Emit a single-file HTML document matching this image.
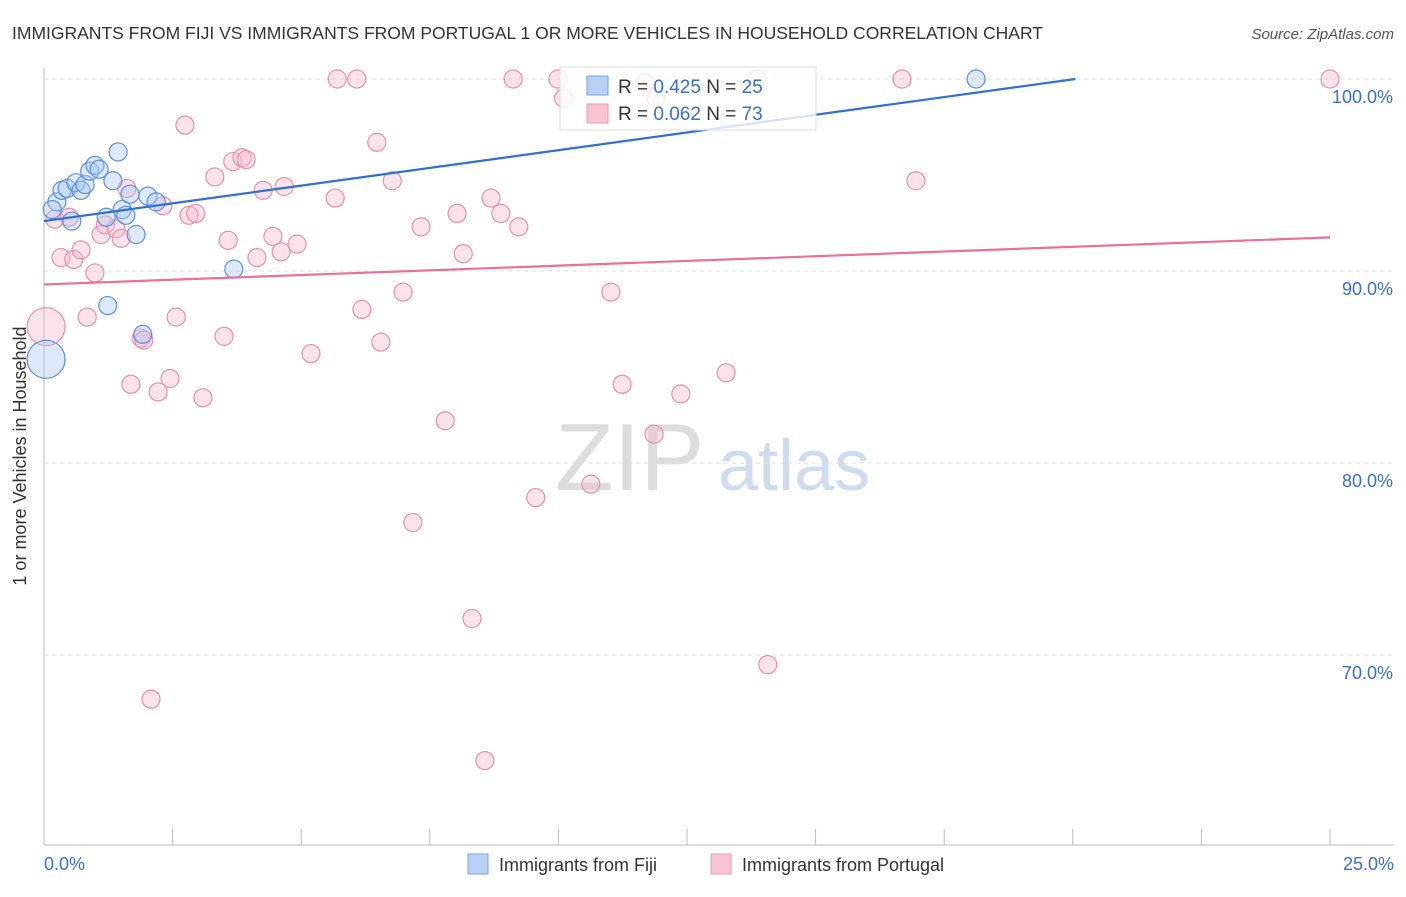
<!DOCTYPE html>
<html><head><meta charset="utf-8"><style>
body{margin:0;background:#fff;font-family:"Liberation Sans",sans-serif;}
svg text{font-family:"Liberation Sans",sans-serif;}
</style></head><body>
<svg id="chart" width="1406" height="892" xmlns="http://www.w3.org/2000/svg">
<text x="12" y="39" font-size="17.5" fill="#333">IMMIGRANTS FROM FIJI VS IMMIGRANTS FROM PORTUGAL 1 OR MORE VEHICLES IN HOUSEHOLD CORRELATION CHART</text>
<text x="1394" y="39" font-size="15" fill="#555" font-style="italic" text-anchor="end">Source: ZipAtlas.com</text>
<text x="26" y="456" font-size="18" fill="#333" text-anchor="middle" transform="rotate(-90 26 456)">1 or more Vehicles in Household</text>
<g><text x="555" y="490" font-size="96" fill="#ddd" font-family="Liberation Serif">ZIP</text><text x="718" y="490" font-size="72" fill="#cfdcf0">atlas</text></g>
<g id="grid"></g><g id="axes"></g><g id="pts"></g><g id="lines"></g>
<g>
<rect x="560" y="67" width="256" height="63" fill="#fff" fill-opacity="0.8" stroke="#ddd"/>
<rect x="587" y="76" width="21" height="19" fill="#b7d0f3" stroke="#7aa3e0"/>
<rect x="587" y="104" width="21" height="19" fill="#f8c3d3" stroke="#ea9ab5"/>
<text x="618" y="93" font-size="19" fill="#333">R = <tspan fill="#3a6fcc">0.425</tspan>   N = <tspan fill="#3a6fcc">25</tspan></text>
<text x="618" y="120" font-size="19" fill="#333">R = <tspan fill="#3a6fcc">0.062</tspan>   N = <tspan fill="#3a6fcc">73</tspan></text>
</g>
<g>
<rect x="468" y="854" width="20" height="20" fill="#b7d0f3" stroke="#7aa3e0"/>
<text x="499" y="871" font-size="18" fill="#333">Immigrants from Fiji</text>
<rect x="711" y="854" width="20" height="20" fill="#f8c3d3" stroke="#ea9ab5"/>
<text x="742" y="871" font-size="18" fill="#333">Immigrants from Portugal</text>
</g>
</svg>
<script>
const yTicks=[100,90,80,70];
const yTickLabels=["100.0%","90.0%","80.0%","70.0%"];
const xEndLabels=["0.0%","25.0%"];
const fijiX=[.25,.35,.45,.54,.62,.72,.80,.89,.99,1.07,1.24,1.21,1.34,1.44,1.52,1.59,1.67,1.79,1.92,2.02,2.18,3.69,18.12,.04,.16];
const fijiY=[93.6,94.2,94.3,92.6,94.6,94.2,94.5,95.2,95.5,95.3,88.2,92.8,94.7,96.2,93.2,92.9,94.0,91.9,86.7,93.9,93.6,90.1,100,85.4,93.2];
const fijiBig=[23];
const portX=[.04,.21,.33,.49,.58,.72,.84,.99,1.11,1.19,1.40,1.50,1.61,1.69,1.89,1.94,2.08,2.22,2.31,2.45,2.57,2.74,2.82,2.95,3.09,3.32,3.50,3.58,3.67,3.85,3.93,4.14,4.26,4.45,4.61,4.67,4.92,5.19,5.66,5.70,6.08,6.18,6.47,6.55,6.77,6.98,7.17,7.33,7.80,8.03,8.15,8.32,8.57,8.69,8.88,9.12,9.23,9.56,9.99,10.63,11.02,11.24,11.68,11.86,12.38,13.26,13.86,14.07,16.68,16.95,25.0,10.1,11.9];
const portY=[87.1,92.7,90.7,92.8,90.6,91.1,87.6,89.9,91.9,92.4,92.2,91.7,94.3,84.1,86.5,86.4,67.7,83.7,93.4,84.4,87.6,97.6,92.9,93.0,83.4,94.9,86.6,91.6,95.7,95.9,95.8,90.7,94.2,91.8,91.0,94.4,91.4,85.7,93.8,100,100,88.0,96.7,86.3,94.7,88.9,76.9,92.3,82.2,93.0,90.9,71.9,64.5,93.8,93.0,100,92.3,78.2,100,78.9,88.9,84.1,99.8,81.5,83.6,84.7,100,69.5,100,94.7,100,99.0,99.0];
const portBig=[0];
const fijiLine=[[0,92.6],[20.05,100]];
const portLine=[[0,89.3],[25,91.75]];
const X=v=>44+v/25*1286, Y=v=>79+(100-v)*19.2;
const ns="http://www.w3.org/2000/svg";
function mk(t,a,p){const e=document.createElementNS(ns,t);for(const k in a)e.setAttribute(k,a[k]);p.appendChild(e);return e;}
const grid=document.getElementById('grid'),axes=document.getElementById('axes'),pts=document.getElementById('pts'),lines=document.getElementById('lines');
yTicks.forEach((t,i)=>{
 const l=mk('line',{x1:44,x2:1394,y1:Y(t),y2:Y(t),stroke:'#ddd','stroke-dasharray':'4,4'},grid);
 
 
 const tx=mk('text',{x:1393,y:Y(t)+24,'font-size':18,fill:'#3a6fcc','text-anchor':'end'},axes);tx.textContent=yTickLabels[i];
 
 
});
const ax=mk('line',{x1:44,x2:44,y1:68,y2:845,stroke:'#bbb'},axes);


const bx=mk('line',{x1:44,x2:1394,y1:845,y2:845,stroke:'#bbb'},axes);


for(let i=0;i<=10;i++){const t=mk('line',{x1:X(i*2.5),x2:X(i*2.5),y1:829,y2:845,stroke:'#bbb'},axes);
 
 }
[[0,'start',44],[25,'end',1394]].forEach((d,i)=>{const t=mk('text',{x:d[2],y:870,'font-size':18,fill:'#3a6fcc','text-anchor':d[1]},axes);t.textContent=xEndLabels[i];
 
 });
function draw(xs,ys,big,fill,stroke,name){xs.forEach((x,i)=>{
 const c=mk('circle',{cx:X(x),cy:Y(ys[i]),r:big.includes(i)?19:9,fill:fill,'fill-opacity':0.4,stroke:stroke,'stroke-width':1.2},pts);
 
 });}
draw(portX,portY,portBig,'#f6b9cc','#e88fae','portugal-point');
draw(fijiX,fijiY,fijiBig,'#a9c7f1','#5b8fdc','fiji-point');
const l1=mk('line',{x1:X(fijiLine[0][0]),y1:Y(fijiLine[0][1]),x2:X(fijiLine[1][0]),y2:Y(fijiLine[1][1]),stroke:'#2f6fd6','stroke-width':2.2},lines);


const l2=mk('line',{x1:X(portLine[0][0]),y1:Y(portLine[0][1]),x2:X(portLine[1][0]),y2:Y(portLine[1][1]),stroke:'#e8709a','stroke-width':2.2},lines);


</script>
</body></html>
